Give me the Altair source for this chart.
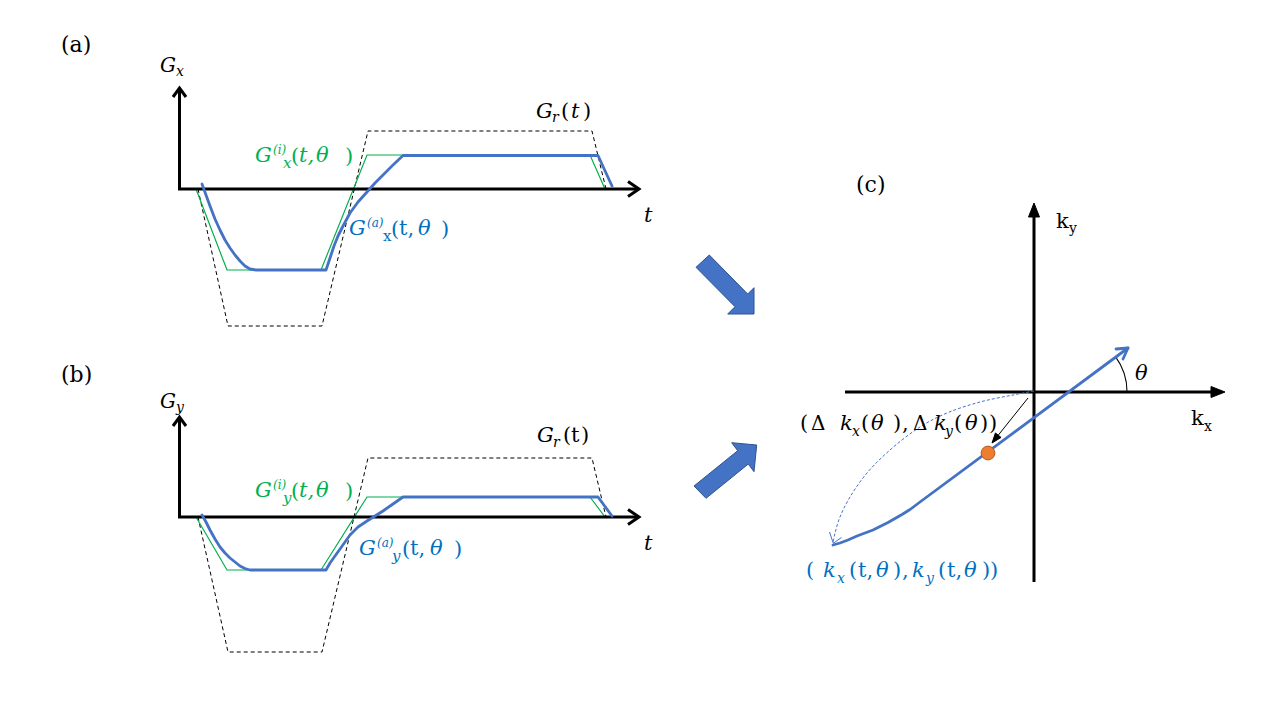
import altair as alt
import pandas as pd
import numpy as np

# ---------------- figure geometry (pixel coordinates of the figure) ----------------
W, H = 1260, 700
XDOM = [8, 8 + W]
YDOM = [8, 8 + H]

# Panel (a): G_r(t) dashed, G^(i)_x green, G^(a)_x blue
a_ref_x = [198, 228, 322, 368, 592, 606]
a_ref_y = [189, 326, 326, 131, 131, 189]
a_ideal_x = [196, 227, 321, 367, 590, 605]
a_ideal_y = [189, 270, 270, 155, 155, 189]
a_act_x = [202, 206, 210, 215, 220, 225, 230, 235, 240, 245, 250, 256,
           326, 330, 334, 338, 343, 350, 358, 367, 375, 383, 393, 403, 598, 612]
a_act_y = [184, 195, 206, 219, 230, 240, 248, 255, 261, 266, 269, 270,
           270, 258, 246, 236, 226, 213, 202, 192, 183, 175, 165, 155.5, 155.5, 186]

# Panel (b): G_r(t) dashed, G^(i)_y green, G^(a)_y blue
b_ref_x = [198, 228, 322, 368, 592, 606]
b_ref_y = [517, 652, 652, 458, 458, 517]
b_ideal_x = [196, 227, 321, 367, 590, 605]
b_ideal_y = [517, 570, 570, 497, 497, 517]
b_act_x = [202, 206, 210, 215, 220, 225, 230, 235, 240, 245, 250, 256,
           326, 330, 335, 340, 345, 350, 358, 367, 375, 383, 393, 403, 598, 612]
b_act_y = [515, 522, 530, 539, 547, 553, 558, 562, 566, 568.5, 570, 570,
           570, 563, 556, 549, 542, 535, 527, 521, 516, 511, 504, 497, 497, 516]

# Panel (c): k-space trajectory, delta-k dashed path, echo point
c_traj_x = [833, 840, 848, 857, 865, 873, 880, 888, 895, 902, 910, 920, 1128]
c_traj_y = [545, 543, 540, 536, 533, 530, 526.5, 522.5, 518.5, 514.5, 509.5, 502, 348]
c_shift_x = [1034, 1013, 980, 947, 920, 890, 867, 850, 840, 835, 833]
c_shift_y = [391, 395, 402, 413, 427, 450, 473, 497, 517, 533, 543]
c_point = (988, 453)

# axes: (id, xs, ys) thick black polylines incl. open arrow heads
axes_lines = [
    ("ax_a_y", [179.5, 179.5], [190, 88]),
    ("ax_a_yh", [173, 179.5, 186], [97, 88, 97]),
    ("ax_a_x", [178, 639], [189, 189]),
    ("ax_a_xh", [628, 639, 628], [181.5, 189, 196.5]),
    ("ax_b_y", [179.5, 179.5], [518, 417]),
    ("ax_b_yh", [173, 179.5, 186], [426, 417, 426]),
    ("ax_b_x", [178, 639], [517, 517]),
    ("ax_b_xh", [628, 639, 628], [509.5, 517, 524.5]),
    ("ax_c_y", [1034, 1034], [582, 215]),
    ("ax_c_x", [845, 1212], [392, 392]),
]
# filled black triangles (axis heads of panel c)
tri_heads = [
    ("h_cy", [1034, 1028.5, 1039.5, 1034], [203, 217, 217, 203]),
    ("h_cx", [1225, 1211, 1211, 1225], [392, 386.5, 397.5, 392]),
]
# block arrows between panels
block_arrows = [
    ("arr1", [696, 709.3, 747.7, 754, 754, 727.7, 735, 696],
             [267.3, 255, 294, 287.7, 314, 314, 306.7, 267.3]),
    ("arr2", [694, 737.7, 731.7, 756.7, 754, 748.3, 706, 694],
             [486, 450.7, 442.7, 445, 471.7, 464, 498.3, 486]),
]
# thin black arrow from origin to (dkx, dky)
thin_arrow = ([1028, 992], [398, 443])


def poly_df(items):
    rows = []
    for name, xs, ys in items:
        for i, (x, y) in enumerate(zip(xs, ys)):
            rows.append({"id": name, "i": i, "x": x, "y": y})
    return pd.DataFrame(rows)


def head(tip, frm, length=10, half=3.6):
    tip = np.array(tip, float)
    d = tip - np.array(frm, float)
    d = d / np.linalg.norm(d)
    p = np.array([d[1], -d[0]])
    b = tip - length * d
    c1, c2 = b + half * p, b - half * p
    return [tip[0], c1[0], c2[0], tip[0]], [tip[1], c1[1], c2[1], tip[1]]


xs = alt.Scale(domain=XDOM, nice=False, zero=False)
ys = alt.Scale(domain=YDOM, nice=False, zero=False, reverse=True)
X = alt.X("x:Q", scale=xs, axis=None)
Y = alt.Y("y:Q", scale=ys, axis=None)


def lines(df, **kw):
    return alt.Chart(df).mark_line(**kw).encode(
        x=X, y=Y, detail="id:N", order=alt.Order("i:Q"))


dashed = lines(poly_df([("ra", a_ref_x, a_ref_y), ("rb", b_ref_x, b_ref_y)]),
               color="black", strokeWidth=1, strokeDash=[4, 3])
green = lines(poly_df([("ia", a_ideal_x, a_ideal_y), ("ib", b_ideal_x, b_ideal_y)]),
              color="#00B050", strokeWidth=1.2)
blue = lines(poly_df([("aa", a_act_x, a_act_y), ("ab", b_act_x, b_act_y),
                      ("tr", c_traj_x, c_traj_y),
                      ("trh", [1116, 1128, 1123], [349, 348, 359])]),
             color="#4472C4", strokeWidth=2.8, strokeJoin="round", strokeCap="round")
axes = lines(poly_df(axes_lines), color="black", strokeWidth=3, strokeJoin="miter")
tris = lines(poly_df(tri_heads + [("ht",) + head((992, 443), (1028, 398))]),
             color="black", fill="black", strokeWidth=1)
blocks = lines(poly_df(block_arrows), color="#2F528F", fill="#4472C4", strokeWidth=1)
thin = lines(poly_df([("ta", [thin_arrow[0][0], 996], [thin_arrow[1][0], 438])]),
             color="black", strokeWidth=1)
shift = lines(poly_df([("sh", c_shift_x, c_shift_y)]),
              color="#4472C4", strokeWidth=1, strokeDash=[3, 2], interpolate="catmull-rom")
shifth = lines(poly_df([("shh", [829.5, 833.3, 841.5], [532, 543.3, 537.5])]),
               color="#4472C4", strokeWidth=1)

arc = alt.Chart(pd.DataFrame({"x": [1067], "y": [392]})).mark_arc(
    radius=60.6, radius2=59.5, theta=0.94, theta2=1.5708, color="black"
).encode(x=X, y=Y)

pt = alt.Chart(pd.DataFrame({"x": [c_point[0]], "y": [c_point[1]]})).mark_point(
    filled=True, size=190, fill="#ED7D31", stroke="#B25A1E", strokeWidth=1, opacity=1
).encode(x=X, y=Y)

BK, GR, BL = "black", "#00B050", "#0070C0"
# (text, x, y, size, color, italic)
tokens = [
    ("(a)", 61, 52, 22, BK, False), ("(b)", 61, 382, 22, BK, False), ("(c)", 856, 192, 22, BK, False),
    ("G", 160, 72, 20, BK, True), ("x", 176, 76, 14, BK, True),
    ("G", 160, 408, 20, BK, True), ("y", 176, 412, 14, BK, True),
    ("t", 644, 222, 21, BK, True), ("t", 644, 550, 21, BK, True),
    # G_r(t) panel a
    ("G", 536, 118, 21, BK, True), ("r", 552, 122, 14, BK, True), ("(", 561, 118, 21, BK, False),
    ("t", 571, 118, 21, BK, True), (")", 583, 118, 21, BK, False),
    # G_r(t) panel b
    ("G", 537, 442, 21, BK, True), ("r", 553, 447, 14, BK, True), ("(", 563, 442, 21, BK, False),
    ("t", 571, 442, 21, BK, False), (")", 581, 442, 21, BK, False),
    # G^(i)_x(t, θ)
    ("G", 255, 162, 21, GR, True), ("(i)", 273, 154, 12, GR, True), ("x", 283, 168, 15, GR, True),
    ("(", 291, 163, 21, GR, False), ("t,", 299, 162, 21, GR, True), ("θ", 316, 162, 21, GR, True),
    (")", 345, 163, 21, GR, False),
    # G^(i)_y(t, θ)
    ("G", 255, 497, 21, GR, True), ("(i)", 273, 489, 12, GR, True), ("y", 283, 503, 15, GR, True),
    ("(", 291, 498, 21, GR, False), ("t,", 299, 497, 21, GR, True), ("θ", 316, 497, 21, GR, True),
    (")", 345, 498, 21, GR, False),
    # G^(a)_x(t, θ)
    ("G", 349, 235, 21, BL, True), ("(a)", 367, 227, 12, BL, True), ("x", 383, 241, 15, BL, False),
    ("(", 391, 236, 21, BL, False), ("t,", 399, 235, 21, BL, False), ("θ", 418, 235, 21, BL, True),
    (")", 441, 236, 21, BL, False),
    # G^(a)_y(t, θ)
    ("G", 359, 555, 21, BL, True), ("(a)", 377, 547, 12, BL, True), ("y", 392, 561, 15, BL, True),
    ("(", 402, 556, 21, BL, False), ("t,", 410, 555, 21, BL, False), ("θ", 430, 555, 21, BL, True),
    (")", 454, 556, 21, BL, False),
    # panel c axis labels
    ("k", 1056, 228, 21, BK, False), ("y", 1069, 233, 14, BK, False),
    ("k", 1191, 425, 21, BK, False), ("x", 1204, 431, 14, BK, False),
    ("θ", 1135, 380, 21, BK, True),
    # (Δk_x(θ), Δk_y(θ))
    ("(", 800, 430, 21, BK, False), ("Δ", 811, 430, 20, BK, False), ("k", 840, 430, 21, BK, True),
    ("x", 852, 436, 14, BK, True), ("(", 861, 430, 21, BK, False), ("θ", 871, 430, 21, BK, True),
    (")", 893, 430, 21, BK, False), (",", 902, 430, 21, BK, False), ("Δ", 913, 430, 20, BK, False),
    ("k", 934, 430, 21, BK, True), ("y", 945, 436, 14, BK, True), ("(", 954, 430, 21, BK, False),
    ("θ", 965, 430, 21, BK, True), (")", 980, 430, 21, BK, False), (")", 989, 430, 21, BK, False),
    # (k_x(t, θ), k_y(t, θ))
    ("(", 806, 577, 21, BL, False), ("k", 823, 577, 21, BL, True), ("x", 837, 583, 14, BL, True),
    ("(", 849, 577, 21, BL, False), ("t,", 858, 577, 21, BL, False), ("θ", 876, 577, 21, BL, True),
    (")", 893, 577, 21, BL, False), (",", 902, 577, 21, BL, False),
    ("k", 912, 577, 21, BL, True), ("y", 926, 583, 14, BL, True), ("(", 938, 577, 21, BL, False),
    ("t,", 947, 577, 21, BL, False), ("θ", 964, 577, 21, BL, True), (")", 982, 577, 21, BL, False),
    (")", 990, 577, 21, BL, False),
]
tdf = pd.DataFrame(tokens, columns=["text", "x", "y", "size", "color", "italic"])


def texts(df, italic):
    return alt.Chart(df[df["italic"] == italic]).mark_text(
        align="left", baseline="alphabetic", font="DejaVu Serif",
        fontStyle="italic" if italic else "normal"
    ).encode(x=X, y=Y, text="text:N",
             size=alt.Size("size:Q", scale=None),
             color=alt.Color("color:N", scale=None))


chart = alt.layer(
    dashed, green, blocks, axes, tris, thin, shift, shifth, arc, blue, pt,
    texts(tdf, True), texts(tdf, False)
).properties(width=W, height=H, padding=0, background="white").configure_view(stroke=None)

chart.save("out.html", embed_options={"renderer": "svg", "actions": False})
